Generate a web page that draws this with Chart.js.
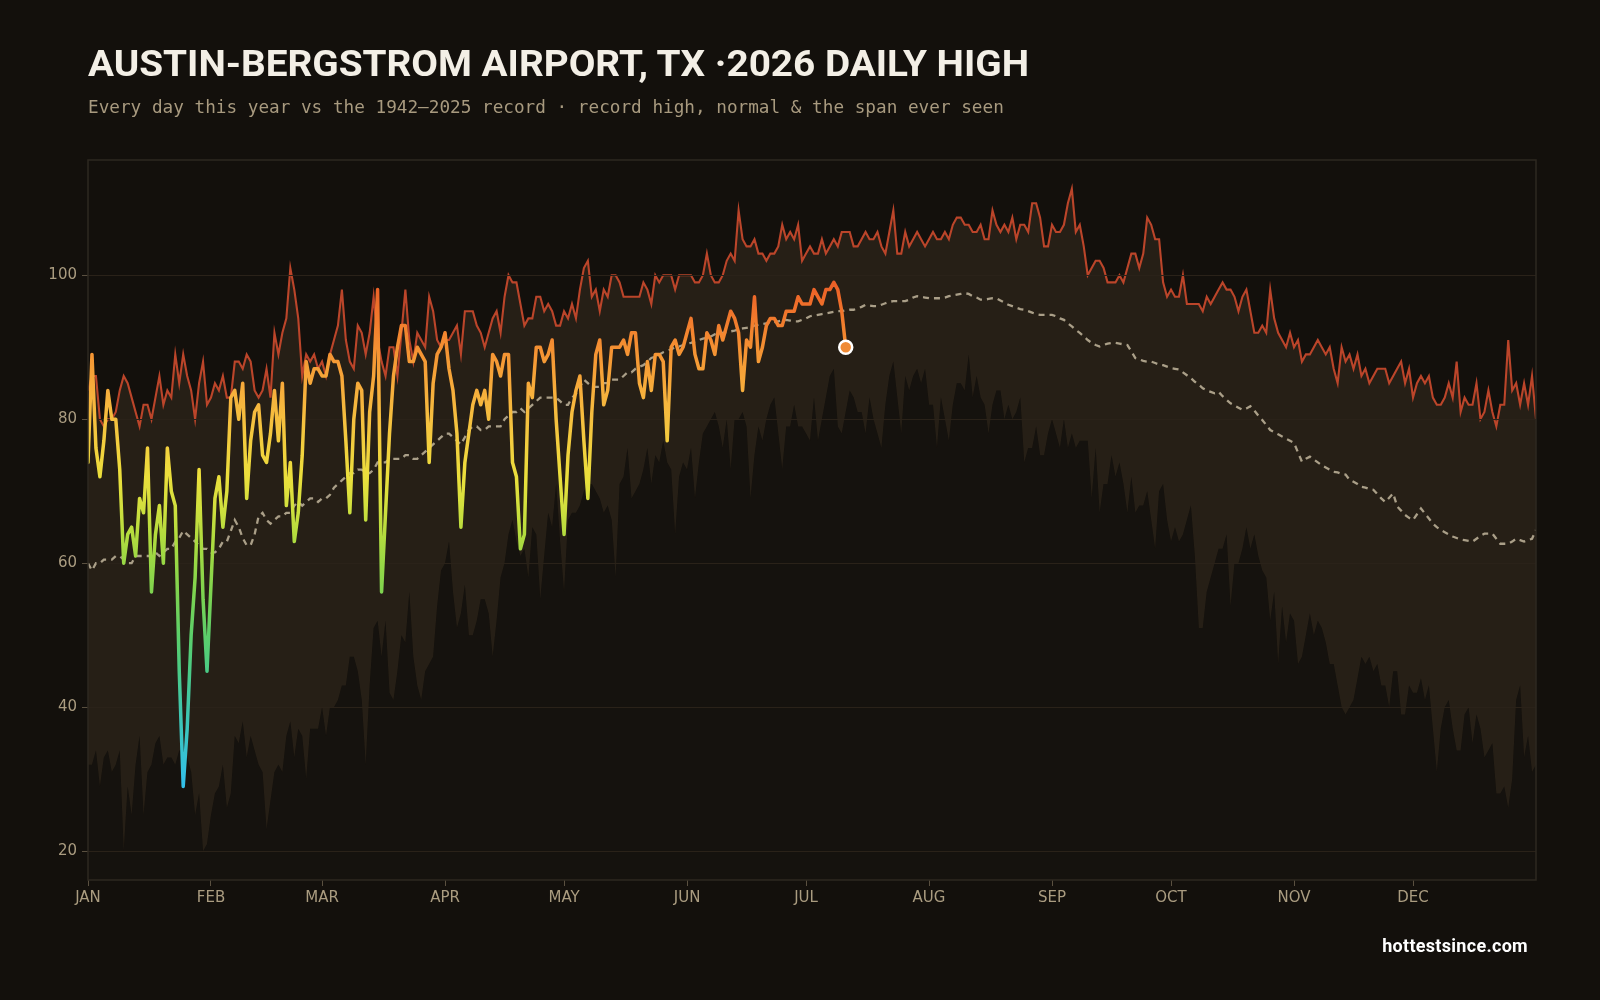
<!DOCTYPE html>
<html>
<head>
<meta charset="utf-8">
<script src="https://cdn.jsdelivr.net/npm/chart.js@4.4.1/dist/chart.umd.min.js"></script>
<style>
  html, body { margin: 0; background: #13100c; }
  #wrap { position: relative; width: 1600px; height: 1000px; overflow: hidden; }
  #chart { position: absolute; left: 0; top: 0; }
  .txt { position: absolute; white-space: nowrap; line-height: 1; }
  #title { left: 88px; top: 42.5px; font: 700 36px Roboto, sans-serif; color: #f3efe6; transform-origin: left top; }
  #sub { left: 88px; top: 97px; font: 17.7px "DejaVu Sans Mono", monospace; color: #a89a7f; }
  #brand { right: 72px; top: 935px; font: 700 18px Roboto, sans-serif; letter-spacing: 0.3px; color: #ffffff; }
</style>
</head>
<body>
<div id="wrap">
  <canvas id="chart" width="1600" height="1000"></canvas>
  <div class="txt" id="title">AUSTIN-BERGSTROM AIRPORT, TX ·2026 DAILY HIGH</div>
  <div class="txt" id="sub">Every day this year vs the 1942–2025 record · record high, normal &amp; the span ever seen</div>
  <div class="txt" id="brand">hottestsince.com</div>
</div>
<script>
// month axis
const monthNames = ['JAN','FEB','MAR','APR','MAY','JUN','JUL','AUG','SEP','OCT','NOV','DEC'];
const monthStarts = [0, 31, 59, 90, 120, 151, 181, 212, 243, 273, 304, 334];
const yTicks = [20, 40, 60, 80, 100];

// record high for each day of year (°F)
const recordHigh = [
  84,86,86,80,79,80,80,81,84,86, 85,83,81,79,82,82,80,83,86,82,
  84,83,89,85,89,86,84,80,85,88, 82,83,85,84,86,83,83,88,88,87,
  89,88,84,83,84,87,83,92,89,92, 94,101,98,94,86,89,88,89,87,88,
  86,89,91,93,98,91,88,87,93,92, 89,92,97,91,88,86,90,90,86,92,
  98,91,88,92,91,90,97,95,91,90, 91,91,92,93,89,95,95,95,93,92,
  90,92,94,95,92,97,100,99,99,96, 93,94,94,97,97,95,96,95,93,93,
  95,94,96,94,98,101,102,97,98,95, 98,97,100,100,99,97,97,97,97,97,
  99,98,96,100,99,100,100,100,98,100, 100,100,100,99,99,100,103,100,99,99,
  100,102,103,102,109,105,104,104,105,103, 103,102,103,103,104,107,105,106,105,107,
  102,103,104,103,103,105,103,104,105,104, 106,106,106,104,104,105,106,105,105,106,
  104,103,106,109,103,103,106,104,105,106, 105,104,105,106,105,105,106,105,107,108,
  108,107,107,106,106,107,105,105,109,107, 106,107,106,108,105,107,107,106,110,110,
  108,104,104,107,106,106,107,110,112,106, 107,104,100,101,102,102,101,99,99,99,
  100,99,101,103,103,101,103,108,107,105, 105,99,97,98,97,97,100,96,96,96,
  96,95,97,96,97,98,99,98,98,97, 95,97,98,95,92,92,93,92,98,94,
  92,91,90,92,90,91,88,89,89,90, 91,90,89,90,87,85,90,88,89,87,
  89,86,87,85,86,87,87,87,85,86, 87,88,85,87,83,85,86,85,86,83,
  82,82,83,85,83,88,81,83,82,82, 85,80,81,84,81,79,82,82,91,84,
  85,82,85,82,86,80
];

// lowest daily high ever recorded for each day (°F)
const recordLow = [
  32,32,34,29,33,34,31,32,34,20, 29,25,32,36,25,31,32,35,36,32,
  33,33,32,34,34,33,31,25,28,20, 21,25,28,29,32,26,28,36,35,38,
  33,36,34,32,31,23,27,31,32,31, 36,38,33,37,36,30,37,37,37,40,
  36,40,40,41,43,43,47,47,45,41, 32,43,51,52,47,52,42,41,45,50,
  49,56,47,43,41,45,46,47,54,59, 60,63,56,51,53,57,50,50,52,55,
  55,53,47,52,58,60,64,66,63,61, 62,58,65,64,55,61,67,65,71,63,
  56,66,67,67,68,70,71,71,70,69, 67,68,66,58,71,72,76,69,70,71,
  73,76,71,75,74,77,74,73,64,72, 74,73,76,69,74,78,79,80,81,79,
  76,80,73,80,80,81,79,69,75,79, 77,80,82,83,78,73,79,79,82,79,
  79,78,77,83,77,80,83,86,87,79, 78,81,84,83,81,81,78,83,80,78,
  76,82,86,88,83,78,86,84,86,87, 85,87,82,82,76,83,80,77,82,85,
  85,84,89,83,86,83,82,78,82,84, 84,80,82,80,81,83,74,76,76,79,
  75,75,78,80,78,76,80,76,78,76, 77,77,77,69,76,67,71,71,75,72,
  74,71,67,72,67,68,68,70,66,62, 70,71,66,63,65,63,64,66,68,61,
  51,51,56,58,60,62,62,64,54,60, 60,62,65,62,64,61,59,58,52,56,
  46,54,49,53,52,46,47,50,53,50, 52,51,49,46,46,43,40,39,40,41,
  44,47,46,47,45,46,43,43,40,45, 45,39,39,43,42,42,44,41,43,37,
  31,37,40,41,37,34,34,39,40,35, 39,37,33,34,35,28,28,29,26,30,
  41,43,33,36,31,32
];

// normal daily high (°F)
const normalHigh = [
  60,59,60,60,60.5,60.5,60.5,61,61,60.5, 60,60,61,61,61,61,61,61.5,61,61.5,
  62,62,63,63.5,64.5,64,63.5,63,62.5,62, 62,61.5,61.5,62,63,63,64.5,66,65,63.5,
  62.5,62.5,64,66.5,67,66,65.5,66,66.5,66.5, 67,67,68,68.5,68,68.5,69,69,68.5,69,
  69,69.5,70.5,71,71.5,72,72.5,72.5,73,73, 72.5,72.5,73,74,74,74,74.5,74.5,74.5,74.5,
  75,75,74.5,74.5,75,75.5,76,76.5,77,77.5, 78,78,77.5,77,76.5,77.5,78.5,79,79,78.5,
  78.5,79,79,79,79,80,80.5,81,81,81.5, 81,81.5,82,82.5,83,83,83,83,83,82.5,
  82,82,83,83.5,84.5,85.5,85,84.5,84.5,84.5, 85,85,85.5,85.5,85.5,86,86.5,86.5,87,87.3,
  87.5,88,88.5,88.7,89,89.3,89.5,89.7,90,90.1, 90.3,90.5,90.6,90.8,91,91.2,91.3,91.5,91.8,92,
  92,92.1,92.2,92.3,92.5,92.6,92.7,92.8,93,93.1, 93.2,93.3,93.4,93.5,93.6,93.7,93.8,93.7,93.6,93.6,
  93.8,94,94.3,94.4,94.5,94.6,94.7,94.8,94.9,95, 95,95.1,95.2,95.2,95.4,95.6,95.9,95.8,95.7,95.7,
  95.9,96.1,96.3,96.4,96.4,96.4,96.4,96.6,96.9,97.1, 97,96.9,96.8,96.8,96.8,96.8,96.9,97.1,97.2,97.3,
  97.4,97.5,97.4,97.1,96.9,96.6,96.6,96.7,96.8,96.8, 96.5,96.2,95.9,95.7,95.5,95.3,95.2,95,94.8,94.6,
  94.5,94.5,94.5,94.5,94.3,94,93.8,93.3,92.9,92.4, 92,91.5,91,90.6,90.3,90.1,90.3,90.5,90.6,90.6,
  90.5,90.4,90.3,89.4,88.5,88.3,88.1,88,88,87.8, 87.6,87.5,87.3,87.1,87,86.9,86.5,86.1,85.7,85.2,
  84.8,84.3,84,83.8,83.6,83.8,83.2,82.7,82.2,81.9, 81.6,81.3,81.5,81.8,81.2,80.5,79.9,79.2,78.5,78.2,
  77.9,77.6,77.3,77,76.7,75.4,74.1,74.5,74.8,74.4, 74,73.6,73.3,73,72.7,72.6,72.4,72.3,71.6,71.3,
  71,70.6,70.5,70.3,70.2,69.6,69,68.5,69.1,69.7, 67.9,67.3,66.7,66.3,66,66.8,67.6,66.9,66.2,65.5,
  65,64.6,64.3,64,63.7,63.5,63.3,63.2,63.1,63, 63.4,63.8,64.1,64.1,64.1,63.4,62.7,62.7,62.7,63,
  63.4,63.2,63,63.2,63.4,64.6
];

// 2026 observed daily high so far (°F)
const high2026 = [
  74,89,76,72,77,84,80,80,73,60, 64,65,61,69,67,76,56,64,68,60,
  76,70,68,45,29,37,50,58,73,55, 45,57,69,72,65,70,83,84,80,85,
  69,77,81,82,75,74,78,84,77,85, 68,74,63,67,75,88,85,87,87,86,
  86,89,88,88,86,77,67,80,85,84, 66,81,86,98,56,67,78,86,90,93,
  93,88,88,90,89,88,74,85,89,90, 92,87,84,78,65,74,78,82,84,82,
  84,80,89,88,86,89,89,74,72,62, 64,85,83,90,90,88,89,91,80,72,
  64,75,81,84,86,77,69,81,89,91, 82,84,90,90,90,91,89,92,92,85,
  83,88,84,89,89,88,77,90,91,89, 90,92,94,89,87,87,92,91,89,93,
  91,93,95,94,92,84,91,90,97,88, 90,93,94,94,93,93,95,95,95,97,
  96,96,96,98,97,96,98,98,99,98, 95,90
];

// temperature -> line colour
const tempStops = [100, 96, 92, 88, 84, 80, 76, 72, 68, 64, 60, 56, 50, 45, 38, 30, 16];
const tempColors = ['#ea5a26','#ef6e2a','#f3852f','#f59a35','#f7ae3c','#f5bf3f','#f2d03e','#ebdf3c',
                    '#d2e03e','#b4dc3e','#98d845','#7ed34f','#5ccf6a','#4acb86','#3cc6b8','#33c0e6','#2fb8ee'];

const days = recordHigh.map((_, i) => i);
const TICK = '#aa9c80';
const GRID = '#2a2219';

let grad = null;
function tempGradient(context) {
  const chart = context.chart;
  const area = chart.chartArea;
  if (!area) return '#f5a035';
  if (grad) return grad;
  const y = chart.scales.y;
  const top = y.getPixelForValue(y.max), bot = y.getPixelForValue(y.min);
  grad = chart.ctx.createLinearGradient(0, top, 0, bot);
  tempStops.forEach((t, i) => {
    grad.addColorStop((y.max - t) / (y.max - y.min), tempColors[i]);
  });
  return grad;
}

// grid lines go over the fills, frame around the plot
const framePlugin = {
  id: 'frame',
  beforeDatasetDraw(chart, args) {
    if (args.index !== 1) return;
    const { ctx, chartArea: a, scales: { y } } = chart;
    ctx.save();
    ctx.strokeStyle = GRID;
    ctx.lineWidth = 1;
    yTicks.forEach(v => {
      const py = Math.round(y.getPixelForValue(v)) + 0.5;
      ctx.beginPath(); ctx.moveTo(a.left, py); ctx.lineTo(a.right, py); ctx.stroke();
    });
    ctx.restore();
  },
  afterDatasetsDraw(chart) {
    const { ctx, chartArea: a } = chart;
    ctx.save();
    ctx.strokeStyle = '#2e2821';
    ctx.lineWidth = 1.5;
    ctx.strokeRect(a.left, a.top, a.right - a.left, a.bottom - a.top);
    ctx.restore();
  }
};

const last = high2026.length - 1;

new Chart(document.getElementById('chart'), {
  type: 'line',
  data: {
    labels: days,
    datasets: [
      {
        label: '2026',
        data: high2026,
        borderColor: tempGradient,
        borderWidth: 3.5,
        borderJoinStyle: 'round',
        borderCapStyle: 'round',
        tension: 0,
        fill: false,
        pointRadius: c => c.dataIndex === last ? 6.5 : 0,
        pointBackgroundColor: '#ef8a35',
        pointBorderColor: '#ffffff',
        pointBorderWidth: 2.5,
        pointHoverRadius: 0
      },
      {
        label: 'Normal',
        data: normalHigh,
        borderColor: '#aa9f88',
        borderWidth: 2.3,
        borderDash: [6, 5],
        pointRadius: 0,
        tension: 0,
        fill: false
      },
      {
        label: 'Record high',
        data: recordHigh,
        borderColor: '#bb452a',
        borderWidth: 2.1,
        pointRadius: 0,
        tension: 0,
        fill: { target: 3, above: '#261f16', below: '#261f16' }
      },
      {
        label: 'Record low high',
        data: recordLow,
        borderWidth: 0,
        borderColor: 'rgba(0,0,0,0)',
        backgroundColor: '#15120e',
        pointRadius: 0,
        tension: 0,
        fill: 'start'
      }
    ]
  },
  options: {
    responsive: false,
    animation: false,
    events: [],
    layout: { padding: { left: 0, top: 160, right: 64, bottom: 80 } },
    plugins: { legend: { display: false }, tooltip: { enabled: false } },
    scales: {
      x: {
        type: 'linear',
        min: 0,
        max: 365,
        afterBuildTicks: s => { s.ticks = monthStarts.map(v => ({ value: v })); },
        afterFit: s => { s.height = 40; },
        border: { display: false },
        grid: { drawOnChartArea: false, drawTicks: true, tickLength: 6, color: '#5a5040' },
        ticks: {
          autoSkip: false, maxRotation: 0, padding: 3,
          color: TICK, font: { family: 'DejaVu Sans', size: 15 },
          callback: v => monthNames[monthStarts.indexOf(v)]
        }
      },
      y: {
        min: 16,
        max: 116,
        afterBuildTicks: s => { s.ticks = yTicks.map(v => ({ value: v })); },
        afterFit: s => { s.width = 88; },
        border: { display: false },
        grid: { drawOnChartArea: false, drawTicks: true, tickLength: 6, color: '#5a5040' },
        ticks: {
          padding: 5,
          color: TICK, font: { family: 'DejaVu Sans', size: 15 }
        }
      }
    }
  },
  plugins: [framePlugin]
});

// fit the title to its width in the reference
const title = document.getElementById('title');
const w = title.getBoundingClientRect().width;
title.style.transform = 'scaleX(' + (941 / w).toFixed(4) + ')';
</script>
</body>
</html>
